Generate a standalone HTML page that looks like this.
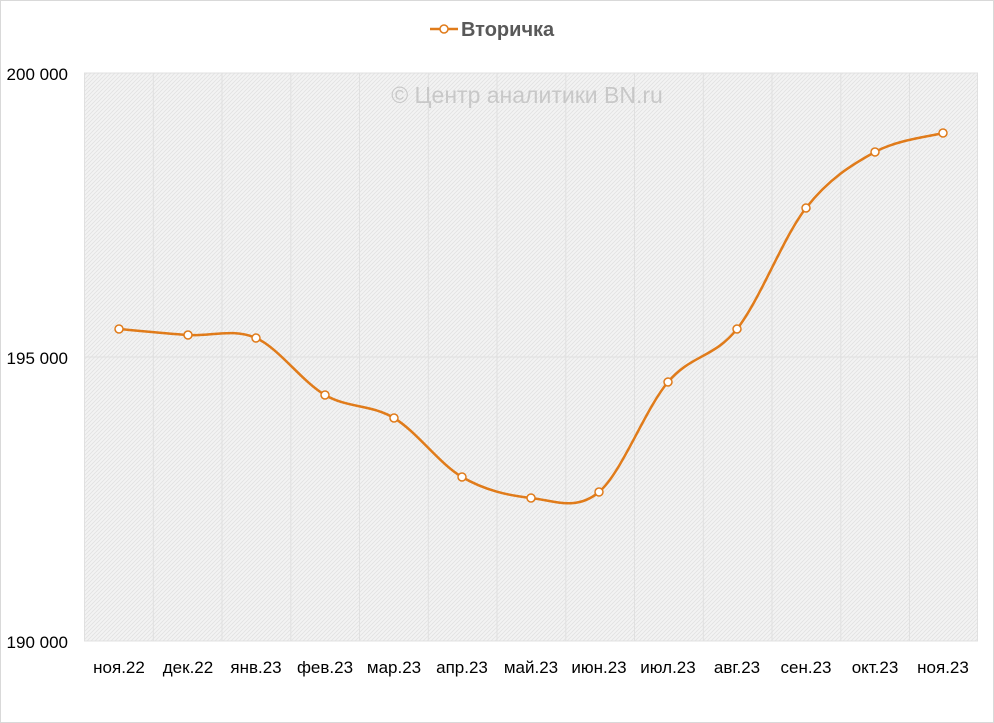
<!DOCTYPE html>
<html><head><meta charset="utf-8"><style>
body{margin:0;background:#fff}
svg{display:block}
text{font-family:"Liberation Sans","DejaVu Sans",sans-serif}
</style></head><body>
<svg width="994" height="723" viewBox="0 0 994 723" xmlns="http://www.w3.org/2000/svg">
<defs>
<pattern id="h" width="4" height="4" patternUnits="userSpaceOnUse">
<rect width="4" height="4" fill="#f3f3f3"/>
<path d="M0,4 L4,0 M-1,1 L1,-1 M3,5 L5,3" stroke="#e2e2e2" stroke-width="0.8"/>
</pattern>
</defs>
<rect x="0.5" y="0.5" width="993" height="722" fill="#fff" stroke="#d9d9d9"/>
<rect x="84" y="73" width="894" height="568" fill="url(#h)"/>
<g stroke="#e0e0e0" stroke-width="1">
<line x1="84" y1="73" x2="978" y2="73"/>
<line x1="84" y1="357" x2="978" y2="357"/>
<line x1="84" y1="641" x2="978" y2="641"/>
<line x1="84.5" y1="73" x2="84.5" y2="641"/><line x1="153.3" y1="73" x2="153.3" y2="641"/><line x1="222" y1="73" x2="222" y2="641"/><line x1="290.8" y1="73" x2="290.8" y2="641"/><line x1="359.5" y1="73" x2="359.5" y2="641"/><line x1="428.3" y1="73" x2="428.3" y2="641"/><line x1="497" y1="73" x2="497" y2="641"/><line x1="565.8" y1="73" x2="565.8" y2="641"/><line x1="634.5" y1="73" x2="634.5" y2="641"/><line x1="703.3" y1="73" x2="703.3" y2="641"/><line x1="772" y1="73" x2="772" y2="641"/><line x1="840.8" y1="73" x2="840.8" y2="641"/><line x1="909.5" y1="73" x2="909.5" y2="641"/><line x1="977.5" y1="73" x2="977.5" y2="641"/>
</g>
<text x="527" y="103" font-size="23" fill="#c8c8c8" text-anchor="middle">© Центр аналитики BN.ru</text>
<g font-size="17" fill="#000" text-anchor="end">
<text x="68" y="80">200 000</text>
<text x="68" y="364">195 000</text>
<text x="68" y="648">190 000</text>
</g>
<g font-size="17" fill="#000" text-anchor="middle">
<text x="119" y="673">ноя.22</text><text x="188" y="673">дек.22</text><text x="256" y="673">янв.23</text><text x="325" y="673">фев.23</text><text x="394" y="673">мар.23</text><text x="462" y="673">апр.23</text><text x="531" y="673">май.23</text><text x="599" y="673">июн.23</text><text x="668" y="673">июл.23</text><text x="737" y="673">авг.23</text><text x="806" y="673">сен.23</text><text x="875" y="673">окт.23</text><text x="943" y="673">ноя.23</text>
</g>
<line x1="430" y1="29" x2="458" y2="29" stroke="#e07b1a" stroke-width="2.5"/>
<circle cx="444" cy="29" r="4" fill="#fff" stroke="#e07b1a" stroke-width="1.5"/>
<text x="461" y="36" font-size="20" font-weight="bold" fill="#595959">Вторичка</text>
<path fill="none" stroke="#e07b1a" stroke-width="2.5" d="M119,329 C130.5,330 165.2,333.5 188,335 C210.8,336.5 233.2,328 256,338 C278.8,348 302,381.7 325,395 C348,408.3 371.2,404.3 394,418 C416.8,431.7 439.2,463.7 462,477 C484.8,490.3 508.2,495.5 531,498 C553.8,500.5 576.2,511.3 599,492 C621.8,472.7 645,409.2 668,382 C691,354.8 714,358 737,329 C760,300 783,237.5 806,208 C829,178.5 852.2,164.5 875,152 C897.8,139.5 931.7,136.2 943,133"/>
<g fill="#fff" stroke="#e07b1a" stroke-width="1.5">
<circle cx="119" cy="329" r="4"/><circle cx="188" cy="335" r="4"/><circle cx="256" cy="338" r="4"/><circle cx="325" cy="395" r="4"/><circle cx="394" cy="418" r="4"/><circle cx="462" cy="477" r="4"/><circle cx="531" cy="498" r="4"/><circle cx="599" cy="492" r="4"/><circle cx="668" cy="382" r="4"/><circle cx="737" cy="329" r="4"/><circle cx="806" cy="208" r="4"/><circle cx="875" cy="152" r="4"/><circle cx="943" cy="133" r="4"/>
</g>
</svg>
</body></html>
